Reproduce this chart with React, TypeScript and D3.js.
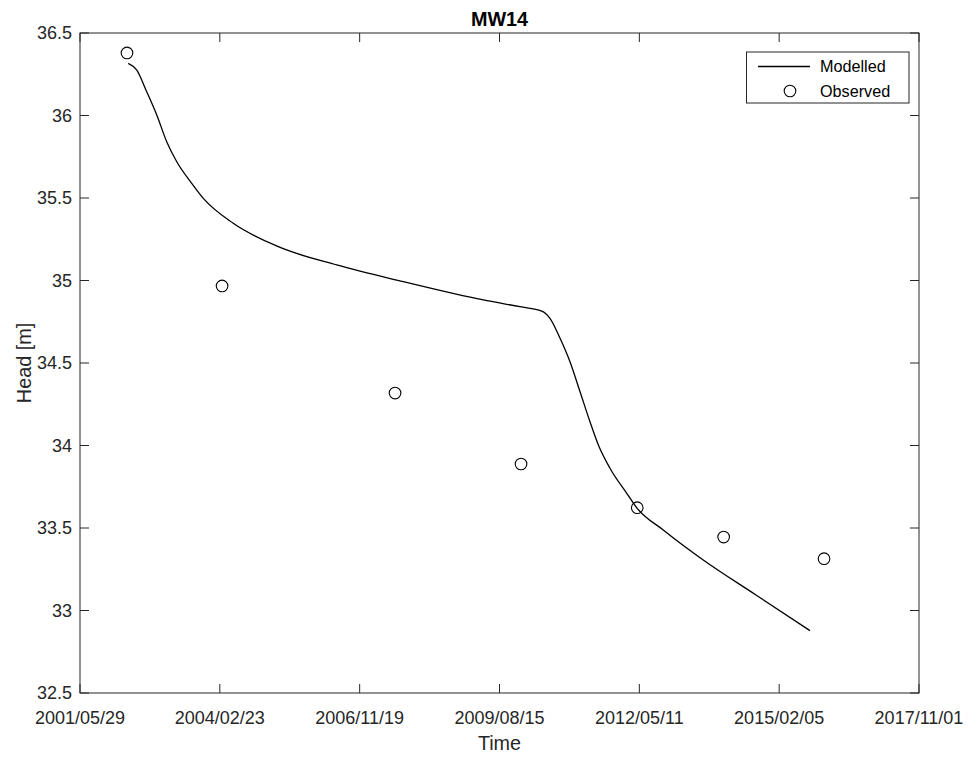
import React from "react";
import * as d3 from "d3";

const title = "MW14";
const xLabel = "Time";
const yLabel = "Head [m]";

const modelDates = [
  "2002-05-09", "2002-07-08", "2002-09-18", "2002-11-29", "2003-02-08", "2003-04-21",
  "2003-08-06", "2003-10-28", "2004-05-29", "2005-04-16", "2006-06-08", "2007-09-27",
  "2009-04-21", "2010-01-09", "2010-06-13", "2010-08-11", "2010-10-22", "2011-01-01",
  "2011-03-14", "2011-05-24", "2011-07-23", "2011-10-14", "2012-02-11", "2012-04-24",
  "2012-10-29", "2013-08-11", "2014-08-23", "2015-09-13",
];
const modelHead = [
  36.316, 36.276, 36.144, 36.003, 35.841, 35.720,
  35.589, 35.498, 35.347, 35.205, 35.094, 34.993,
  34.882, 34.841, 34.815, 34.771, 34.650, 34.508,
  34.326, 34.144, 34.003, 33.862, 33.710, 33.621,
  33.488, 33.306, 33.094, 32.878,
];

const obsDates = ["2002-04-30", "2004-03-10", "2007-07-30", "2010-01-16", "2012-04-26", "2014-01-04", "2015-12-23"];
const obsHead = [36.379, 34.967, 34.318, 33.888, 33.623, 33.445, 33.314];

const xTickDates = ["2001-05-29", "2004-02-23", "2006-11-19", "2009-08-15", "2012-05-11", "2015-02-05", "2017-11-01"];
const yTicks = [32.5, 33, 33.5, 34, 34.5, 35, 35.5, 36, 36.5];

const W = 968, H = 758;
const L = 80, R = 919, T = 33, B = 693;
const axisColor = "#262626";
const font = "'Liberation Sans', Arial, Helvetica, sans-serif";

export default function App() {
  const parse = (s: string) => new Date(s + "T00:00:00Z");
  const x = d3.scaleUtc().domain([parse(xTickDates[0]), parse(xTickDates[xTickDates.length - 1])]).range([L, R]);
  const y = d3.scaleLinear().domain([32.5, 36.5]).range([B, T]);
  const fmt = d3.utcFormat("%Y/%m/%d");
  const line = d3
    .line<number>()
    .x((i) => x(parse(modelDates[i])))
    .y((i) => y(modelHead[i]))
    .curve(d3.curveMonotoneX);
  const path = line(modelDates.map((_, i) => i)) || "";
  const tl = 9;

  return (
    <svg width={W} height={H} style={{ position: "absolute", left: 0, top: 0, background: "#fff" }} fontFamily={font}>
      <rect x={0} y={0} width={W} height={H} fill="#fff" />
      {xTickDates.map((d) => {
        const px = x(parse(d));
        return (
          <g key={d}>
            <line x1={px} x2={px} y1={B} y2={B - tl} stroke={axisColor} strokeWidth={1} />
            <line x1={px} x2={px} y1={T} y2={T + tl} stroke={axisColor} strokeWidth={1} />
            <text x={px} y={723.5} fontSize={18} textAnchor="middle" fill={axisColor}>{fmt(parse(d))}</text>
          </g>
        );
      })}
      {yTicks.map((v) => {
        const py = y(v);
        return (
          <g key={v}>
            <line x1={L} x2={L + tl} y1={py} y2={py} stroke={axisColor} strokeWidth={1} />
            <line x1={R} x2={R - tl} y1={py} y2={py} stroke={axisColor} strokeWidth={1} />
            <text x={72} y={py} dy="0.35em" fontSize={18} textAnchor="end" fill={axisColor}>{v}</text>
          </g>
        );
      })}
      <rect x={L} y={T} width={R - L} height={B - T} fill="none" stroke={axisColor} strokeWidth={1} />
      <path d={path} fill="none" stroke="#000" strokeWidth={1.3} />
      {obsDates.map((d, i) => (
        <circle key={d} cx={x(parse(d))} cy={y(obsHead[i])} r={5.8} fill="none" stroke="#000" strokeWidth={1.1} />
      ))}
      <text x={(L + R) / 2} y={26} fontSize={19.8} fontWeight="bold" textAnchor="middle" fill="#000">{title}</text>
      <text x={(L + R) / 2} y={750} fontSize={19.8} textAnchor="middle" fill={axisColor}>{xLabel}</text>
      <text transform={`translate(31, ${(T + B) / 2}) rotate(-90)`} fontSize={19.8} textAnchor="middle" fill={axisColor}>{yLabel}</text>
      <g>
        <rect x={746.5} y={52} width={162.5} height={51} fill="#fff" stroke={axisColor} strokeWidth={1} />
        <line x1={758} x2={810} y1={66.5} y2={66.5} stroke="#000" strokeWidth={1.3} />
        <text x={820} y={66.5} dy="0.35em" fontSize={16.2} fill="#000">Modelled</text>
        <circle cx={790} cy={91} r={5.8} fill="none" stroke="#000" strokeWidth={1.1} />
        <text x={820} y={91} dy="0.35em" fontSize={16.2} fill="#000">Observed</text>
      </g>
    </svg>
  );
}
